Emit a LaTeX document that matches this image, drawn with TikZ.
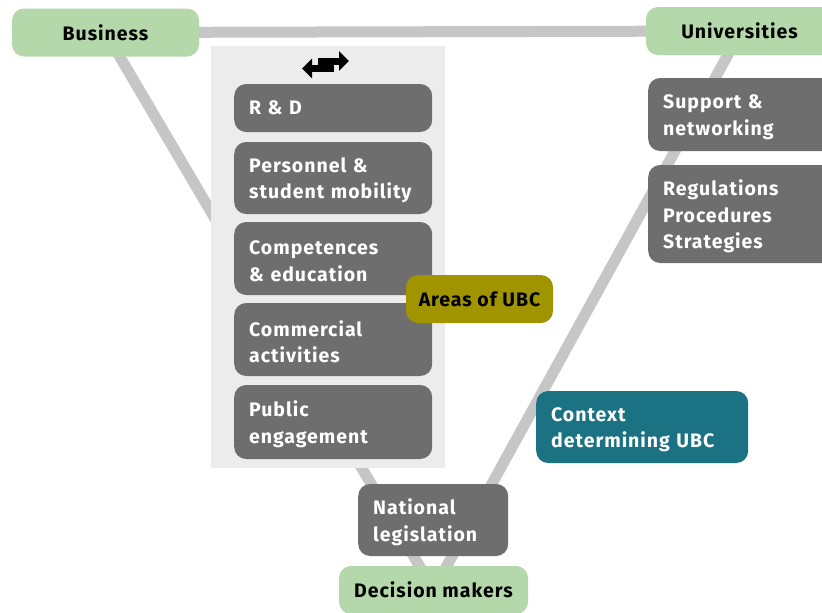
\documentclass[tikz,border=0pt]{standalone}
\usepackage{fontspec}
\setmainfont{Fira Sans}[LetterSpace=5]
\usepackage{xcolor}
\usetikzlibrary{arrows.meta,positioning,backgrounds}
\definecolor{actgreen}{HTML}{B5D8AB}
\definecolor{linkgray}{HTML}{C6C6C6}
\definecolor{panelgray}{HTML}{ECECEC}
\definecolor{areagray}{HTML}{6E6E6E}
\definecolor{olive}{HTML}{A09400}
\definecolor{teal}{HTML}{1B7282}

\begin{document}
\begin{tikzpicture}[x=1pt,y=-1pt,
actor/.style={fill=actgreen,rounded corners=12pt,minimum height=48pt,font=\fontsize{19.5}{26}\selectfont\bfseries,inner sep=0pt},
area/.style={fill=areagray,rounded corners=12pt,text=white,align=left,inner xsep=15pt,inner ysep=0pt,font=\fontsize{19.5}{26.5}\selectfont\bfseries,anchor=west},
multi/.style={area,execute at end node={\endgraf\vspace{-5pt}}},
tag/.style={rounded corners=12pt,inner sep=0pt,minimum height=48pt,font=\fontsize{19.5}{26.5}\selectfont\bfseries},
link/.style={draw=linkgray,line width=11pt},
swap/.style={-{Triangle[length=10pt,width=19pt]},line width=7pt}
]
\useasboundingbox (0,0) rectangle (822,613);
\clip (0,0) rectangle (822,613);
% actors
\node[actor,minimum width=187pt] (business) at (105.5,32.5) {Business};
\node[actor,minimum width=190pt] (univ) at (741,31) {\hspace*{-3pt}Universities};
\node[actor,minimum width=189pt] (decision) at (433.5,590) {Decision makers};
% areas of UBC
\node[area,text width=168pt,minimum height=48pt] (rd) at (234,108) {R \& D};
\node[multi,text width=168pt,minimum height=72pt] (mobility) at (234,178) {Personnel \&\\student mobility};
\node[multi,text width=168pt,minimum height=73pt] (education) at (234,258.5) {Competences\\\& education};
\node[multi,text width=168pt,minimum height=73pt] (commercial) at (234,339.5) {Commercial\\activities};
\node[multi,text width=168pt,minimum height=74pt] (public) at (234,422) {Public\\engagement};
\node[tag,fill=olive,minimum width=147pt] (areas) at (479.5,299) {Areas of UBC};
% context
\node[multi,text width=162pt,minimum height=73pt] (support) at (648,114.5) {Support \&\\networking};
\node[multi,text width=162pt,minimum height=98pt] (rules) at (648,214) {Regulations\\Procedures\\Strategies};
\node[multi,text width=182pt,minimum height=72pt,fill=teal] (context) at (536,427) {Context\\determining UBC};
\node[multi,text width=120pt,minimum height=72pt] (national) at (358,520) {National\\legislation};
% exchange icon
\coordinate (swapa) at (318,61);
\coordinate (swapb) at (349,61);
\coordinate (swapc) at (334,68.5);
\coordinate (swapd) at (302,68.5);
\draw[swap] (swapa) -- (swapb);
\draw[swap] (swapc) -- (swapd);
\begin{scope}[on background layer]
\draw[link] (business.center) -- (univ.center);
\draw[link] (business.center) -- (decision.center);
\draw[link] (univ.center) -- (decision.center);
\fill[panelgray] (211,46) rectangle (445,468);
\end{scope}
\end{tikzpicture}
\end{document}
